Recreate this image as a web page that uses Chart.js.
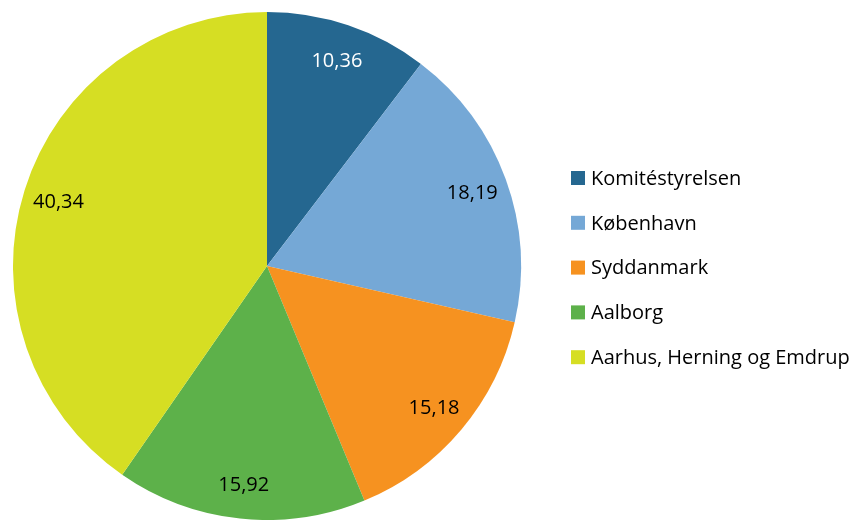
<!DOCTYPE html>
<html>
<head>
<meta charset="utf-8">
<script src="https://cdn.jsdelivr.net/npm/chart.js@4"></script>
<style>
  html, body { margin: 0; padding: 0; background: #fff; }
  #wrap { width: 861px; height: 520px; }
</style>
</head>
<body>
<div id="wrap"><canvas id="pie" width="861" height="520"></canvas></div>
<script>
// data
const regions = ['Komitéstyrelsen', 'København', 'Syddanmark', 'Aalborg', 'Aarhus, Herning og Emdrup'];
const shares = [10.36, 18.19, 15.18, 15.92, 40.34];
const sliceColors = ['#256790', '#75A8D6', '#F69220', '#5DB14A', '#D6DE23'];
const labelColors = ['#ffffff', '#000000', '#000000', '#000000', '#000000'];

const FONT = '"Open Sans", Lato, sans-serif';

// value labels inside the slices, comma as decimal sign
const valueLabels = {
    id: 'valueLabels',
    afterDatasetsDraw(chart) {
        const ctx = chart.ctx;
        const meta = chart.getDatasetMeta(0);
        ctx.save();
        ctx.font = '20px ' + FONT;
        ctx.textAlign = 'center';
        ctx.textBaseline = 'middle';
        meta.data.forEach((arc, i) => {
            const p = arc.getProps(['x', 'y', 'startAngle', 'endAngle', 'outerRadius'], true);
            const mid = (p.startAngle + p.endAngle) / 2;
            const r = p.outerRadius * 0.86;
            ctx.fillStyle = labelColors[i];
            ctx.fillText(shares[i].toFixed(2).replace('.', ','), p.x + Math.cos(mid) * r, p.y + Math.sin(mid) * r + 2);
        });
        ctx.restore();
    }
};

// legend on the right, drawn by hand
const sideLegend = {
    id: 'sideLegend',
    afterDraw(chart) {
        const ctx = chart.ctx;
        ctx.save();
        ctx.font = '20px ' + FONT;
        ctx.textBaseline = 'middle';
        ctx.textAlign = 'left';
        regions.forEach((name, i) => {
            const y = 178 + i * 44.8;
            ctx.fillStyle = sliceColors[i];
            ctx.fillRect(571, y - 7, 14, 14);
            ctx.fillStyle = '#000';
            ctx.fillText(name, 591, y + 1);
        });
        ctx.restore();
    }
};

new Chart(document.getElementById('pie').getContext('2d'), {
    type: 'pie',
    data: {
        labels: regions,
        datasets: [{
            data: shares,
            backgroundColor: sliceColors,
            borderWidth: 0
        }]
    },
    options: {
        responsive: false,
        animation: false,
        layout: { padding: { left: 12, top: 12, right: 339, bottom: 0 } },
        plugins: {
            legend: { display: false },
            tooltip: { enabled: false }
        }
    },
    plugins: [valueLabels, sideLegend]
});
</script>
</body>
</html>
